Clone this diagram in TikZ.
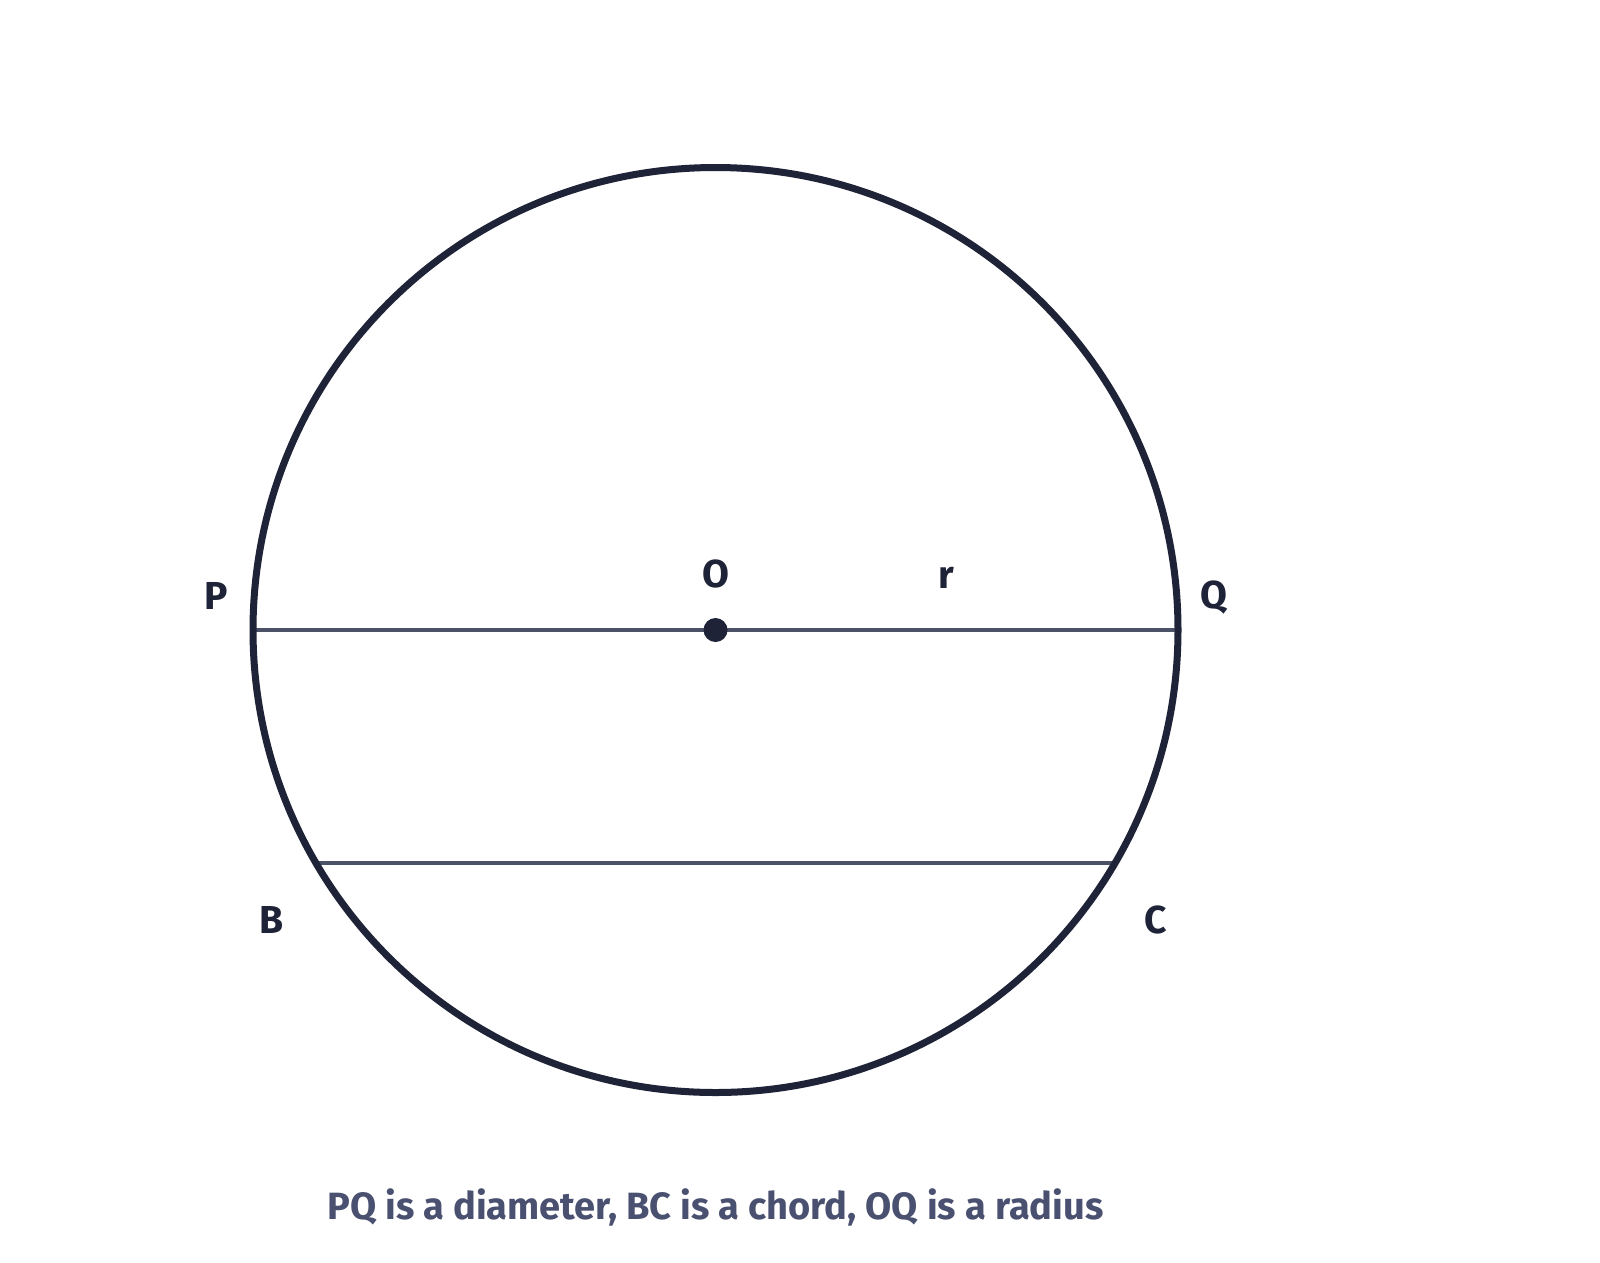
\documentclass[tikz,border=0pt]{standalone}
\usepackage{fontspec}
\setmainfont{Fira Sans}
\definecolor{ink}{HTML}{1E2337}
\definecolor{chordc}{HTML}{4B5268}
\definecolor{capc}{HTML}{4A5170}
\tikzset{
  circ/.style={draw=ink, line width=7pt},
  seg/.style={draw=chordc, line width=4.5pt},
  lbl/.style={text=ink, font=\fontsize{39}{44}\selectfont\bfseries, inner sep=0pt},
  captext/.style={text=capc, font=\fontsize{38}{44}\selectfont\bfseries, inner sep=0pt}
}
\begin{document}
\begin{tikzpicture}[x=1pt,y=-1pt]
\useasboundingbox (0,0) rectangle (1600,1262);
\fill[white] (0,0) rectangle (1600,1262);
\coordinate (O) at (715.5,630);
\coordinate (P) at (253,630);
\coordinate (Q) at (1178,630);
\coordinate (B) at (316,863);
\coordinate (C) at (1115,863);
\draw[seg] (P) -- (Q);
\draw[seg] (B) -- (C);
\draw[circ] (O) circle[radius=462.5];
\fill[ink] (O) circle[radius=12];
\node[lbl] (lP) at (216,596) {P};
\node[lbl] (lO) at (715.5,574) {O};
\node[lbl] (lr) at (946,578) {r};
\node[lbl] (lQ) at (1214,598) {Q};
\node[lbl] (lB) at (272,920) {B};
\node[lbl] (lC) at (1156,920) {C};
\node[captext] (caption) at (715.5,1207) {PQ is a diameter, BC is a chord, OQ is a radius};
\end{tikzpicture}
\end{document}
